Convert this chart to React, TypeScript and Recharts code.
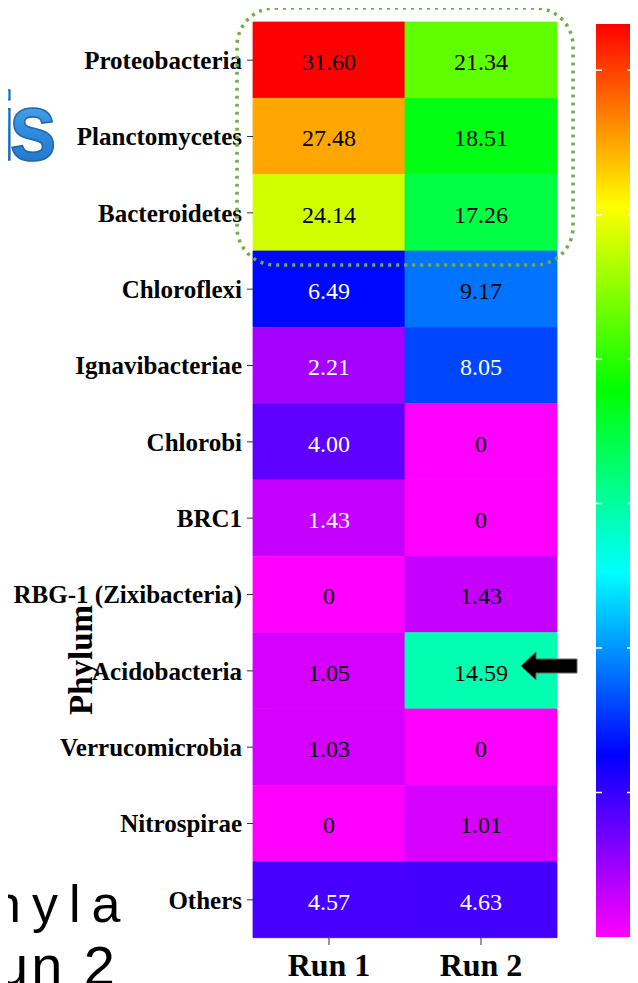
import React from 'react';
import { BarChart, Bar, XAxis, YAxis, Cell, LabelList, ReferenceLine } from 'recharts';

const phyla = [
  'Proteobacteria',
  'Planctomycetes',
  'Bacteroidetes',
  'Chloroflexi',
  'Ignavibacteriae',
  'Chlorobi',
  'BRC1',
  'RBG-1 (Zixibacteria)',
  'Acidobacteria',
  'Verrucomicrobia',
  'Nitrospirae',
  'Others',
];
const run1 = [31.6, 27.48, 24.14, 6.49, 2.21, 4.0, 1.43, 0, 1.05, 1.03, 0, 4.57];
const run2 = [21.34, 18.51, 17.26, 9.17, 8.05, 0, 0, 1.43, 14.59, 0, 1.01, 4.63];
const runLabels = ['Run 1', 'Run 2'];
const colorbarTicks = [5, 10, 15, 20, 25, 30];
const whiteLabelCells = [
  'Chloroflexi|Run 1',
  'Ignavibacteriae|Run 1',
  'Chlorobi|Run 1',
  'BRC1|Run 1',
  'Others|Run 1',
  'Ignavibacteriae|Run 2',
  'Others|Run 2',
];

const maxVal = Math.max(...run1, ...run2);
const colorFor = (v: number) => `hsl(${300 * (1 - v / maxVal)}, 100%, 50%)`;
const fmt = (v: number) => (v === 0 ? '0' : v.toFixed(2));

const rows = phyla.map((p, i) => ({ phylum: p, run1: run1[i], run2: run2[i], w1: 1, w2: 1 }));
const colorbarData = [{ name: 'scale', v: maxVal }];

const SERIF = '"Liberation Serif", "Times New Roman", serif';
const SANS = '"Liberation Sans", Arial, sans-serif';

const makeLabel = (run: number) => (props: any) => {
  const { x, y, width, height, value, index } = props;
  const key = `${phyla[index]}|${runLabels[run]}`;
  const fill = whiteLabelCells.includes(key) ? '#ffffff' : '#000000';
  return (
    <text
      x={Number(x) + Number(width) / 2}
      y={Number(y) + Number(height) / 2 + 2}
      textAnchor="middle"
      dominantBaseline="central"
      fontFamily={SERIF}
      fontSize={24}
      fill={fill}
    >
      {fmt(Number(value))}
    </text>
  );
};

export default function App() {
  return (
    <div style={{ position: 'relative', width: 638, height: 983, margin: '-8px 0 0 -8px', overflow: 'hidden', background: '#fff' }}>
      <svg width={0} height={0} style={{ position: 'absolute' }}>
        <defs>
          <linearGradient id="cbGrad" x1="0" y1="0" x2="0" y2="1">
            <stop offset="0" stopColor="#ff0000" />
            <stop offset="0.2" stopColor="#ffff00" />
            <stop offset="0.4" stopColor="#00ff00" />
            <stop offset="0.6" stopColor="#00ffff" />
            <stop offset="0.8" stopColor="#0000ff" />
            <stop offset="1" stopColor="#ff00ff" />
          </linearGradient>
          <linearGradient id="isGrad" x1="0" y1="0" x2="0" y2="1">
            <stop offset="0" stopColor="#6fc0f5" />
            <stop offset="0.5" stopColor="#2f8fe0" />
            <stop offset="1" stopColor="#1c6fc4" />
          </linearGradient>
        </defs>
      </svg>

      <div style={{ position: 'absolute', left: 0, top: 0 }}>
        <BarChart
          width={638}
          height={983}
          data={rows}
          layout="vertical"
          barCategoryGap={0}
          margin={{ top: 22, right: 81, bottom: 0, left: 0 }}
        >
          <XAxis
            type="number"
            domain={[0, 2]}
            ticks={[0.5, 1.5]}
            tickFormatter={(v: number) => runLabels[Math.floor(v)]}
            axisLine={false}
            tickSize={7}
            tickMargin={8}
            tickLine={{ stroke: '#333' }}
            height={45}
            tick={{ fontFamily: SERIF, fontSize: 32, fontWeight: 'bold', fill: '#000' }}
          />
          <YAxis
            type="category"
            dataKey="phylum"
            width={253}
            axisLine={false}
            tickSize={6}
            tickMargin={5}
            interval={0}
            tickLine={{ stroke: '#333' }}
            tick={{ fontFamily: SERIF, fontSize: 25, fontWeight: 'bold', fill: '#000' }}
          />
          <Bar dataKey="w1" stackId="cells" isAnimationActive={false}>
            {rows.map((r, i) => (
              <Cell key={`a${i}`} fill={colorFor(r.run1)} stroke={colorFor(r.run1)} strokeWidth={0.8} />
            ))}
            <LabelList dataKey="run1" content={makeLabel(0)} />
          </Bar>
          <Bar dataKey="w2" stackId="cells" isAnimationActive={false}>
            {rows.map((r, i) => (
              <Cell key={`b${i}`} fill={colorFor(r.run2)} stroke={colorFor(r.run2)} strokeWidth={0.8} />
            ))}
            <LabelList dataKey="run2" content={makeLabel(1)} />
          </Bar>
        </BarChart>
      </div>

      <div style={{ position: 'absolute', left: 596, top: 24 }}>
        <BarChart width={37} height={913} data={colorbarData} barCategoryGap={0} margin={{ top: 0, right: 0, bottom: 0, left: 0 }}>
          <XAxis dataKey="name" hide />
          <YAxis type="number" domain={[0, maxVal]} hide />
          <Bar dataKey="v" fill="url(#cbGrad)" isAnimationActive={false} />
          {colorbarTicks.map((t) => (
            <ReferenceLine key={t} y={t} stroke="#ffffff" strokeWidth={1.5} strokeDasharray="6 25 6" />
          ))}
        </BarChart>
      </div>

      <svg width={638} height={983} style={{ position: 'absolute', left: 0, top: 0, pointerEvents: 'none' }}>
        <text
          y={160}
          fontFamily={SANS}
          fontWeight="bold"
          fontSize={86}
          fill="url(#isGrad)"
          stroke="#2566a8"
          strokeWidth={1.5}
          transform="translate(0,160) scale(1,1.13) translate(0,-160)"
        >
          <tspan x={16} textAnchor="end">i</tspan>
          <tspan x={9} textAnchor="start">s</tspan>
        </text>
        <text x={-8} y={922} fontFamily={SANS} fontSize={52} letterSpacing={11} fill="#000">
          hyla
        </text>
        <text x={-3} y={985} fontFamily={SANS} fontSize={56} letterSpacing={3} fill="#000">
          un 2
        </text>
        <text
          x={81}
          y={660}
          transform="rotate(-90, 81, 660)"
          textAnchor="middle"
          dominantBaseline="central"
          fontFamily={SERIF}
          fontWeight="bold"
          fontSize={33}
          fill="#000"
        >
          Phylum
        </text>
        <rect
          x={237}
          y={8}
          width={336}
          height={257}
          rx={38}
          ry={38}
          fill="none"
          stroke="#70ad47"
          strokeWidth={3.5}
          strokeDasharray="3 5"
        />
        <polygon
          points="521,666 536,652 536,659 577,659 577,673 536,673 536,680"
          fill="#000"
          stroke="#666"
          strokeWidth={1}
        />
      </svg>
    </div>
  );
}
